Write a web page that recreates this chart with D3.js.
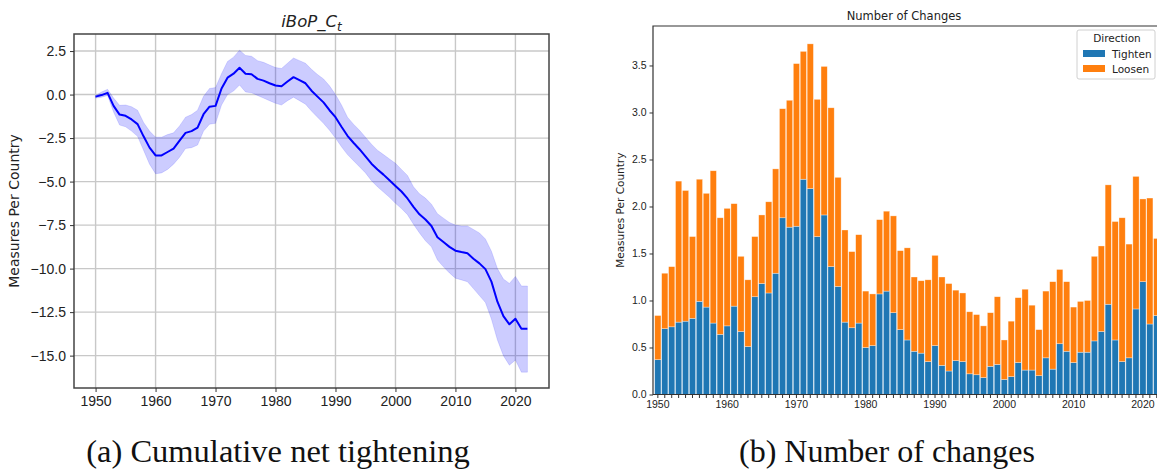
<!DOCTYPE html>
<html>
<head>
<meta charset="utf-8">
<script src="https://cdn.jsdelivr.net/npm/d3@7"></script>
<style>
  body { margin: 0; background: #fff; }
  svg { display: block; font-family: 'DejaVu Sans', sans-serif; }
  .grid line { stroke: #c8c8c8; stroke-width: 1.4; }
  .axis path { display: none; }
  .axis line { stroke: #333; }
  .axis text { fill: #222; }
  .caption { font-family: 'Liberation Serif', 'DejaVu Serif', serif; fill: #111; }
</style>
</head>
<body>
<svg id="chart" width="1157" height="471"></svg>
<script>
// ---- data: cumulative net tightening (panel a) ----
const years = d3.range(1950, 2023);
const netMean = [
  -0.12, -0.03, 0.1, -0.65, -1.15, -1.22, -1.43, -1.7, -2.4, -3.05,
  -3.5, -3.5, -3.3, -3.1, -2.65, -2.2, -2.1, -1.9, -1.13, -0.7,
  -0.65, 0.35, 0.97, 1.2, 1.54, 1.2, 1.17, 0.9, 0.8, 0.65,
  0.52, 0.48, 0.75, 1.0, 0.83, 0.65, 0.22, -0.12, -0.45, -0.9,
  -1.3, -1.85, -2.37, -2.77, -3.14, -3.55, -3.97, -4.3, -4.6, -4.92,
  -5.25, -5.57, -5.97, -6.45, -6.88, -7.18, -7.55, -8.2, -8.47, -8.75,
  -8.97, -9.05, -9.12, -9.43, -9.7, -10.03, -10.75, -11.9, -12.73, -13.2,
  -12.88, -13.45, -13.45
];
const netUpper = [
  -0.05, 0.15, 0.3, -0.2, -0.62, -0.6, -0.7, -0.9, -1.6, -2.1,
  -2.45, -2.45, -2.3, -2.2, -1.8, -1.3, -1.15, -0.9, -0.1, 0.35,
  0.4, 1.2, 1.9, 2.15, 2.55, 2.25, 2.2, 1.95, 1.85, 1.7,
  1.55, 1.5, 1.8, 2.1, 1.95, 1.8, 1.45, 1.15, 0.9, 0.5,
  0.0, -0.6, -1.3, -1.7, -2.05, -2.45, -2.85, -3.2, -3.45, -3.7,
  -3.95, -4.3, -4.65, -5.3, -5.7, -5.95, -6.3, -6.85, -7.1, -7.35,
  -7.5, -7.55, -7.55, -7.75, -7.95, -8.3, -9.0, -10.0, -10.6, -10.85,
  -10.45, -11.0, -11.0
];
const netLower = [
  -0.2, -0.15, -0.05, -1.0, -1.75, -1.85, -2.1, -2.4, -3.2, -4.0,
  -4.55, -4.5, -4.3, -4.0, -3.6, -3.1, -3.05, -2.9, -2.1, -1.7,
  -1.65, -0.6, 0.0, 0.2, 0.55, 0.15, 0.1, -0.05, -0.2, -0.35,
  -0.5, -0.6, -0.35, -0.15, -0.35, -0.55, -0.95, -1.3, -1.65, -2.05,
  -2.5, -3.0, -3.45, -3.8, -4.15, -4.5, -4.95, -5.3, -5.6, -5.9,
  -6.25, -6.55, -6.9, -7.45, -7.95, -8.4, -8.75, -9.5, -9.9, -10.25,
  -10.55, -10.65, -10.75, -11.15, -11.55, -11.95, -12.9, -14.1, -15.0, -15.55,
  -15.25, -15.95, -15.95
];
const netTicks = [2.5, 0, -2.5, -5, -7.5, -10, -12.5, -15];
const yearTicks = [1950, 1960, 1970, 1980, 1990, 2000, 2010, 2020];

// ---- data: number of changes (panel b) ----
const tighten = [
  0.37, 0.70, 0.72, 0.77, 0.78, 0.81, 0.99, 0.93, 0.76, 0.64,
  0.73, 0.94, 0.67, 0.51, 1.04, 1.18, 1.08, 1.29, 1.88, 1.78,
  1.79, 2.29, 2.19, 1.68, 1.91, 1.36, 1.15, 0.77, 0.71, 0.76,
  0.50, 0.52, 1.07, 1.10, 0.87, 0.69, 0.58, 0.46, 0.44, 0.35,
  0.52, 0.31, 0.25, 0.36, 0.35, 0.22, 0.21, 0.18, 0.30, 0.32,
  0.16, 0.19, 0.34, 0.26, 0.26, 0.20, 0.39, 0.27, 0.54, 0.46,
  0.34, 0.45, 0.45, 0.57, 0.67, 0.96, 0.58, 0.35, 0.39, 0.91,
  1.20, 0.75, 0.84
];
const loosen = [
  0.47, 0.59, 0.64, 1.50, 1.39, 0.87, 1.30, 1.21, 1.62, 1.24,
  1.25, 1.09, 0.80, 0.71, 0.64, 0.73, 0.97, 1.11, 1.16, 1.35,
  1.73, 1.36, 1.54, 1.46, 1.58, 1.69, 1.16, 0.98, 0.81, 0.94,
  0.60, 0.55, 0.79, 0.85, 1.03, 0.84, 0.98, 0.79, 0.77, 0.87,
  0.96, 0.94, 0.93, 0.75, 0.73, 0.66, 0.64, 0.55, 0.57, 0.72,
  0.42, 0.59, 0.69, 0.86, 0.69, 0.49, 0.71, 0.93, 0.79, 0.74,
  0.59, 0.54, 0.55, 0.90, 0.91, 1.27, 1.26, 1.53, 1.21, 1.41,
  0.88, 1.34, 0.82
];
const directions = ['Tighten', 'Loosen'];
const dirColors = ['#1f77b4', '#ff7f0e'];
const countTicks = [0, 0.5, 1, 1.5, 2, 2.5, 3, 3.5];

const svg = d3.select('#chart');
const fmt1 = d => d3.format('.1f')(d).replace('-', '\u2212');

// ================= panel a =================
const A = { left: 74, right: 549, top: 34, bottom: 388 };
const xa = d3.scaleLinear().domain([1946.4, 2025.6]).range([A.left, A.right]);
const ya = d3.scaleLinear().domain([-16.86, 3.48]).range([A.bottom, A.top]);
const ga = svg.append('g');

ga.append('g').attr('class', 'grid')
  .selectAll('line.v').data(yearTicks).join('line')
  .attr('x1', d => xa(d)).attr('x2', d => xa(d))
  .attr('y1', A.top).attr('y2', A.bottom);
ga.append('g').attr('class', 'grid')
  .selectAll('line.h').data(netTicks).join('line')
  .attr('x1', A.left).attr('x2', A.right)
  .attr('y1', d => ya(d)).attr('y2', d => ya(d));

const rows = years.map((y, i) => ({ year: y, mean: netMean[i], lo: netLower[i], hi: netUpper[i] }));
ga.append('path').datum(rows)
  .attr('fill', 'rgba(0,0,255,0.2)')
  .attr('stroke', 'rgba(0,0,255,0.12)')
  .attr('d', d3.area().x(d => xa(d.year)).y0(d => ya(d.lo)).y1(d => ya(d.hi)));
ga.append('path').datum(rows)
  .attr('fill', 'none').attr('stroke', '#0000ff').attr('stroke-width', 2)
  .attr('stroke-linejoin', 'round')
  .attr('d', d3.line().x(d => xa(d.year)).y(d => ya(d.mean)));

ga.append('rect')
  .attr('x', A.left).attr('y', A.top)
  .attr('width', A.right - A.left).attr('height', A.bottom - A.top)
  .attr('fill', 'none').attr('stroke', '#444').attr('stroke-width', 1.5);

ga.append('g').attr('class', 'axis')
  .attr('transform', `translate(0,${A.bottom})`)
  .call(d3.axisBottom(xa).tickValues(yearTicks).tickFormat(d3.format('d')).tickSize(4).tickPadding(4))
  .selectAll('text').style('font-size', '14px');
ga.append('g').attr('class', 'axis')
  .attr('transform', `translate(${A.left},0)`)
  .call(d3.axisLeft(ya).tickValues(netTicks).tickFormat(fmt1).tickSize(4).tickPadding(4))
  .selectAll('text').style('font-size', '14px');

ga.append('text')
  .attr('transform', `translate(14,${(A.top + A.bottom) / 2}) rotate(-90)`)
  .attr('text-anchor', 'middle').attr('dy', '0.35em')
  .style('font-size', '14px').attr('fill', '#222')
  .text('Measures Per Country');

const ta = ga.append('text')
  .attr('x', (A.left + A.right) / 2).attr('y', 27)
  .attr('text-anchor', 'middle').style('font-size', '16.5px').style('font-style', 'italic')
  .attr('fill', '#222');
ta.append('tspan').text('iBoP_C');
ta.append('tspan').attr('dy', 4).style('font-size', '12px').text('t');

// ================= panel b =================
const B = { left: 653, right: 1161.6, top: 26, bottom: 394.5 };
const xb = d3.scaleBand().domain(years).range([B.left, B.right])
  .paddingInner(0.1).paddingOuter(0.25);
const yb = d3.scaleLinear().domain([0, 3.92]).range([B.bottom, B.top]);
const gb = svg.append('g');

const table = years.map((y, i) => ({ year: y, Tighten: tighten[i], Loosen: loosen[i] }));
const stacked = d3.stack().keys(directions)(table);

gb.append('g').selectAll('g').data(stacked).join('g')
  .attr('fill', (d, i) => dirColors[i])
  .selectAll('rect').data(d => d).join('rect')
  .attr('x', d => xb(d.data.year))
  .attr('width', xb.bandwidth())
  .attr('y', d => yb(d[1]))
  .attr('height', d => yb(d[0]) - yb(d[1]))
  .attr('stroke', 'rgba(255,255,255,0.55)')
  .attr('stroke-width', 0.6);

gb.append('path')
  .attr('d', `M${B.left},${B.bottom}V${B.top}H${B.right}V${B.bottom}Z`)
  .attr('fill', 'none').attr('stroke', '#333').attr('stroke-width', 1.2);

gb.append('g').attr('class', 'axis')
  .attr('transform', `translate(0,${B.bottom})`)
  .call(d3.axisBottom(xb).tickFormat(d => d % 10 === 0 ? d : '').tickSize(3.5).tickPadding(3))
  .selectAll('text').style('font-size', '10.5px');
gb.append('g').attr('class', 'axis')
  .attr('transform', `translate(${B.left},0)`)
  .call(d3.axisLeft(yb).tickValues(countTicks).tickFormat(fmt1).tickSize(3.5).tickPadding(3))
  .selectAll('text').style('font-size', '10.5px');

gb.append('text')
  .attr('transform', `translate(620,${(B.top + B.bottom) / 2}) rotate(-90)`)
  .attr('text-anchor', 'middle').attr('dy', '0.35em')
  .style('font-size', '10.5px').attr('fill', '#222')
  .text('Measures Per Country');

gb.append('text')
  .attr('x', 904).attr('y', 20)
  .attr('text-anchor', 'middle').style('font-size', '11.5px').attr('fill', '#222')
  .text('Number of Changes');

// legend
const lg = gb.append('g').attr('transform', 'translate(1077,30)');
lg.append('rect').attr('width', 78).attr('height', 49).attr('rx', 2)
  .attr('fill', 'rgba(255,255,255,0.8)').attr('stroke', '#d0d0d0');
lg.append('text').attr('x', 40).attr('y', 12)
  .attr('text-anchor', 'middle').style('font-size', '10.5px').attr('fill', '#222')
  .text('Direction');
directions.forEach((name, i) => {
  lg.append('rect').attr('x', 6).attr('y', 20 + i * 15)
    .attr('width', 22).attr('height', 7).attr('fill', dirColors[i]);
  lg.append('text').attr('x', 35).attr('y', 27.5 + i * 15)
    .style('font-size', '10.5px').attr('fill', '#222').text(name);
});

// captions
svg.append('text').attr('class', 'caption')
  .attr('x', 278).attr('y', 462).attr('text-anchor', 'middle')
  .style('font-size', '32.5px').text('(a) Cumulative net tightening');
svg.append('text').attr('class', 'caption')
  .attr('x', 887).attr('y', 462).attr('text-anchor', 'middle')
  .style('font-size', '32px').text('(b) Number of changes');
</script>
</body>
</html>
